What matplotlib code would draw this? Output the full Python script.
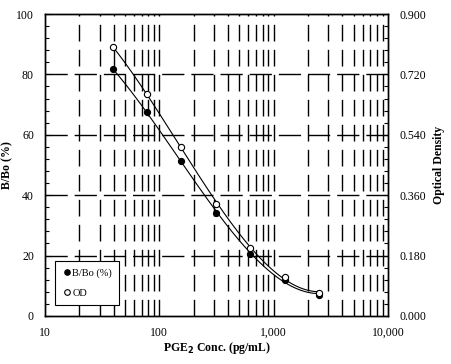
import numpy as np
import matplotlib
matplotlib.use('Agg')
import matplotlib.pyplot as plt
from matplotlib.ticker import FixedLocator, AutoMinorLocator, FuncFormatter, LogLocator

plt.rcParams['font.family'] = ['Liberation Serif', 'DejaVu Serif']
plt.rcParams['lines.scale_dashes'] = False

# standard concentrations (pg/mL)
conc = [39, 78, 156, 313, 625, 1250, 2500]
# B/Bo (%)
bbo = [81.8, 67.4, 51.4, 34.2, 20.5, 11.9, 7.1]
# optical density
od = [0.802, 0.661, 0.505, 0.334, 0.202, 0.117, 0.069]

fig = plt.figure(figsize=(4.51, 3.64), dpi=100)
ax = fig.add_axes([0.0998, 0.132, 0.7605, 0.8295])
ax2 = ax.twinx()

ax.set_xscale('log')
ax.set_xlim(10, 10000)
ax.set_ylim(0, 100)
ax2.set_ylim(0, 0.9)

# grid
grid_x = [m * 10 ** e for e in range(1, 4) for m in range(2, 11)][:-1]
for gx in grid_x:
    ax.axvline(gx, color='black', lw=1.0, dashes=(12, 6), zorder=1)
for gy in [20, 40, 60, 80]:
    ax.axhline(gy, color='black', lw=1.0, dashes=(16, 5), zorder=1)

# smooth fitted curves (cubic in log concentration)
lx = np.log10(conc)
xs = np.linspace(lx[0], lx[-1], 200)
p1 = np.polyfit(lx, bbo, 3)
p2 = np.polyfit(lx, od, 3)
ax.plot(10 ** xs, np.polyval(p1, xs), color='black', lw=0.8, zorder=3)
ax2.plot(10 ** xs, np.polyval(p2, xs), color='black', lw=0.8, zorder=3)

h1, = ax.plot(conc, bbo, 'o', color='black', ms=4.2, mec='black', zorder=4,
              label='B/Bo (%)', ls='none')
h2, = ax2.plot(conc, od, 'o', mfc='white', mec='black', mew=0.8, ms=4.5, zorder=4,
               label='OD', ls='none')

ax.xaxis.set_major_locator(FixedLocator([10, 100, 1000, 10000]))
ax.xaxis.set_minor_locator(LogLocator(base=10, subs=range(2, 10)))
ax.xaxis.set_major_formatter(FuncFormatter(lambda v, p: f'{int(v):,}'))
ax.xaxis.set_minor_formatter(FuncFormatter(lambda v, p: ''))
ax.set_yticks([0, 20, 40, 60, 80, 100])
ax.yaxis.set_minor_locator(AutoMinorLocator(5))
ax2.set_yticks([0, 0.18, 0.36, 0.54, 0.72, 0.9])
ax2.yaxis.set_major_formatter(FuncFormatter(lambda v, p: f'{v:.3f}'))
ax2.yaxis.set_minor_locator(AutoMinorLocator(5))

for a in (ax, ax2):
    a.tick_params(which='both', direction='in', labelsize=8.5, width=0.8)
    a.tick_params(which='major', length=4)
    a.tick_params(which='minor', length=3)
    for s in a.spines.values():
        s.set_linewidth(1.0)
ax.tick_params(axis='x', which='both', length=0, pad=8)
ax.tick_params(axis='y', pad=8)
ax2.tick_params(axis='y', pad=8)

ax.set_xlabel('PGE$_\\mathbf{2}$ Conc. (pg/mL)', fontsize=8.5, fontweight='bold', labelpad=1)
ax.set_ylabel('B/Bo (%)', fontsize=8.5, fontweight='bold', labelpad=2)
ax2.set_ylabel('Optical Density', fontsize=8.5, fontweight='bold', labelpad=5)

leg = ax2.legend([h1, h2], ['B/Bo (%)', 'OD'], loc='lower left',
                 bbox_to_anchor=(0.028, 0.035), fontsize=7.5, frameon=True,
                 fancybox=False, edgecolor='black', framealpha=1,
                 handletextpad=0.0, handlelength=1.0, borderpad=0.7,
                 labelspacing=1.0, borderaxespad=0, markerscale=0.9)
leg.get_frame().set_linewidth(0.8)

fig.savefig('out.png', dpi=100)
